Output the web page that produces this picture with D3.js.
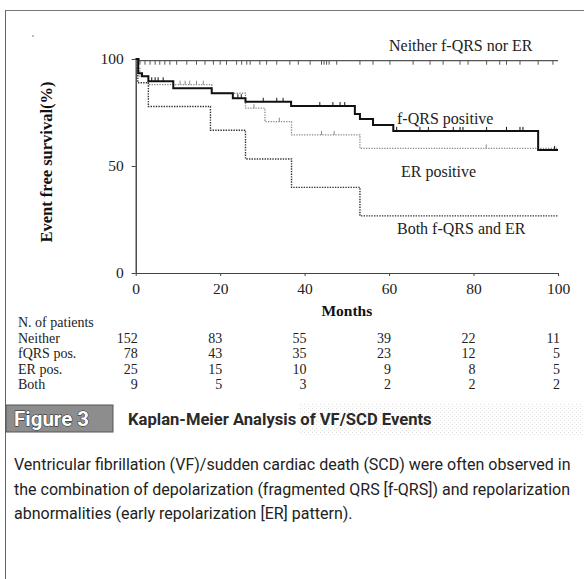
<!DOCTYPE html>
<html>
<head>
<meta charset="utf-8">
<script src="https://cdn.jsdelivr.net/npm/d3@7"></script>
<style>
  body { margin: 0; background: #fff; }
  svg { display: block; }
</style>
</head>
<body>
<div id="chart"></div>
<script>
// Kaplan-Meier steps: event times (months) and survival (%) after each event
let neitherTimes = [0.8];
let neitherSurv = [99.2];
let neitherCensor = [1, 2.2, 3.4, 4.6, 5.7, 6.9, 8.1, 9.7, 12.1, 14.4, 16.4, 18.4, 20, 21.5, 23.9,
  25.1, 26.3, 27.1, 29.4, 31, 33.4, 36.5, 38.5, 41.3, 44, 44.6, 45.2, 45.8, 47.6, 53.1, 56.2,
  60.2, 65.7, 69.7, 72.8, 76.8, 78.7, 83.1, 86.2, 87.8, 91, 95.3, 98.8];

let fqrsTimes = [0.6, 1.5, 3, 8.9, 18, 23, 26, 36.8, 51.9, 53.1, 56.2, 61, 95.3];
let fqrsSurv = [93.3, 91.9, 89.6, 86.3, 84, 81.7, 80, 78, 74.3, 72, 69.2, 66.4, 57.5];
let fqrsCensor = [3.8, 4.6, 5.3, 6.5, 24.2, 25, 30.2, 33.4, 34.9, 43.6, 46.7, 48.4, 49.5,
  61.8, 67.3, 69.3, 75.2, 76.8, 77.5, 83.1, 87.8, 91, 91.7, 99.2];

let erTimes = [0.3, 1, 3, 18, 26, 30.6, 36.9, 53.1];
let erSurv = [96, 92, 88, 84, 77, 70.7, 64.5, 58.2];
let erCensor = [10.5, 11.7, 12.8, 14.4, 16, 28, 34, 44, 47, 83];

let bothTimes = [0.5, 3, 17.7, 26, 36.9, 53.1];
let bothSurv = [88.9, 77.8, 66.7, 53.3, 40, 26.7];
let bothCensor = [];

let endTime = 100;

// numbers at risk
let riskMonths = [0, 20, 40, 60, 80, 100];
let riskGroups = ["Neither", "fQRS pos.", "ER pos.", "Both"];
let riskNeither = [152, 83, 55, 39, 22, 11];
let riskFqrs = [78, 43, 35, 23, 12, 5];
let riskEr = [25, 15, 10, 9, 8, 5];
let riskBoth = [9, 5, 3, 2, 2, 2];

let xTicks = [0, 20, 40, 60, 80, 100];
let yTicks = [0, 50, 100];

let w = 584;
let h = 579;
let serif = "'Liberation Serif', 'Times New Roman', serif";
let sans = "Roboto, 'Liberation Sans', Arial, sans-serif";

let x = d3.scaleLinear().domain([0, 100]).range([135.7, 558]);
let y = d3.scaleLinear().domain([0, 100]).range([273, 59]);

let svg = d3
  .select("#chart")
  .append("svg")
  .attr("width", w)
  .attr("height", h);

// page frame
svg.append("line")
  .attr("x1", 5).attr("x2", w).attr("y1", 10.5).attr("y2", 10.5)
  .attr("stroke", "#777").attr("stroke-width", 1);
svg.append("line")
  .attr("x1", 5.5).attr("x2", 5.5).attr("y1", 10).attr("y2", h)
  .attr("stroke", "#666").attr("stroke-width", 1);
svg.append("circle")
  .attr("cx", 33).attr("cy", 36).attr("r", 0.8).attr("fill", "#666");

// axes
let xAxis = d3.axisBottom(x).tickValues(xTicks).tickSize(3).tickSizeOuter(0).tickPadding(7);
let gx = svg.append("g")
  .attr("transform", `translate(0,${y(0)})`)
  .call(xAxis)
  .attr("font-family", serif).attr("font-size", 15.5);
gx.select(".domain").attr("stroke", "#444");
gx.selectAll(".tick line").attr("stroke", "#444");
gx.selectAll("text").attr("fill", "#222");

let yAxis = d3.axisLeft(y).tickValues(yTicks).tickSize(4).tickSizeOuter(0).tickPadding(8);
let gy = svg.append("g")
  .attr("transform", `translate(${x(0)},0)`)
  .call(yAxis)
  .attr("font-family", serif).attr("font-size", 15.5);
gy.select(".domain").attr("stroke", "#222").attr("stroke-width", 1.2);
gy.selectAll(".tick line").attr("stroke", "#444");
gy.selectAll("text").attr("fill", "#222");

svg.append("text")
  .attr("x", x(50)).attr("y", 316)
  .attr("text-anchor", "middle")
  .attr("font-family", serif).attr("font-weight", "bold").attr("font-size", 15.5)
  .attr("fill", "#111")
  .text("Months");

svg.append("text")
  .attr("transform", `translate(52,${y(50) - 4}) rotate(-90)`)
  .attr("text-anchor", "middle")
  .attr("font-family", serif).attr("font-weight", "bold").attr("font-size", 16.5)
  .attr("fill", "#111")
  .text("Event free survival(%)");

// curves
function steps(times, surv) {
  let pts = [[0, 100]];
  times.forEach(function (t, i) {
    pts.push([t, surv[i]]);
  });
  pts.push([endTime, surv[surv.length - 1]]);
  return pts;
}

function survAt(times, surv, t) {
  let s = 100;
  times.forEach(function (e, i) {
    if (e <= t) s = surv[i];
  });
  return s;
}

let line = d3.line()
  .x(function (d) { return x(d[0]); })
  .y(function (d) { return y(d[1]); })
  .curve(d3.curveStepAfter);

let groups = [
  { times: erTimes, surv: erSurv, censor: erCensor, color: "#8a8a8a", width: 1.3, dash: "1.3,1.3", dir: -1 },
  { times: bothTimes, surv: bothSurv, censor: bothCensor, color: "#333", width: 1.4, dash: "1.4,1.2", dir: -1 },
  { times: neitherTimes, surv: neitherSurv, censor: neitherCensor, color: "#555", width: 1.3, dash: null, dir: 1 },
  { times: fqrsTimes, surv: fqrsSurv, censor: fqrsCensor, color: "#111", width: 2, dash: null, dir: -1 }
];

groups.forEach(function (g) {
  svg.append("path")
    .attr("d", line(steps(g.times, g.surv)))
    .attr("fill", "none")
    .attr("stroke", g.color)
    .attr("stroke-width", g.width)
    .attr("stroke-dasharray", g.dash);

  svg.selectAll(null)
    .data(g.censor)
    .enter()
    .append("line")
    .attr("x1", function (t) { return x(t); })
    .attr("x2", function (t) { return x(t); })
    .attr("y1", function (t) { return y(survAt(g.times, g.surv, t)); })
    .attr("y2", function (t) { return y(survAt(g.times, g.surv, t)) + g.dir * 4; })
    .attr("stroke", g.color)
    .attr("stroke-width", 1);
});

// curve labels
let curveLabels = [
  { text: "Neither f-QRS nor ER", x: 389, y: 51 },
  { text: "f-QRS positive", x: 397, y: 124 },
  { text: "ER positive", x: 401, y: 177 },
  { text: "Both f-QRS and ER", x: 397, y: 234 }
];
svg.selectAll(null)
  .data(curveLabels)
  .enter()
  .append("text")
  .attr("x", function (d) { return d.x; })
  .attr("y", function (d) { return d.y; })
  .attr("font-family", serif).attr("font-size", 16).attr("fill", "#222")
  .text(function (d) { return d.text; });

// numbers at risk table
let rowY = [327, 342.5, 358, 373.5, 389];
svg.append("text")
  .attr("x", 18).attr("y", rowY[0])
  .attr("font-family", serif).attr("font-size", 14).attr("fill", "#222")
  .text("N. of patients");

let riskRows = [riskNeither, riskFqrs, riskEr, riskBoth];
riskRows.forEach(function (row, i) {
  svg.append("text")
    .attr("x", 18).attr("y", rowY[i + 1])
    .attr("font-family", serif).attr("font-size", 14).attr("fill", "#222")
    .text(riskGroups[i]);
  svg.selectAll(null)
    .data(row)
    .enter()
    .append("text")
    .attr("x", function (d, j) { return x(riskMonths[j]) + 2; })
    .attr("y", rowY[i + 1])
    .attr("text-anchor", "end")
    .attr("font-family", serif).attr("font-size", 14).attr("fill", "#222")
    .text(function (d) { return d; });
});

// figure header
let defs = svg.append("defs");
let pat = defs.append("pattern")
  .attr("id", "stipple").attr("width", 4).attr("height", 4)
  .attr("patternUnits", "userSpaceOnUse");
pat.append("rect").attr("x", 0).attr("y", 0).attr("width", 1).attr("height", 1).attr("fill", "#bbb");
pat.append("rect").attr("x", 2).attr("y", 2).attr("width", 1).attr("height", 1).attr("fill", "#ccc");

svg.append("rect")
  .attr("x", 300).attr("y", 403).attr("width", 284).attr("height", 32)
  .attr("fill", "url(#stipple)").attr("opacity", 0.5);

svg.append("rect")
  .attr("x", 6).attr("y", 405).attr("width", 107).attr("height", 27)
  .attr("fill", "#8d8d8d").attr("stroke", "#555").attr("stroke-width", 1);
svg.append("text")
  .attr("x", 14).attr("y", 426)
  .attr("font-family", sans).attr("font-weight", "bold").attr("font-size", 20.5)
  .attr("fill", "#fff").attr("stroke", "#222").attr("stroke-width", 1)
  .attr("paint-order", "stroke")
  .text("Figure 3");

svg.append("text")
  .attr("x", 128).attr("y", 425)
  .attr("font-family", sans).attr("font-weight", "bold").attr("font-size", 16.6)
  .attr("fill", "#2a2a2a")
  .text("Kaplan-Meier Analysis of VF/SCD Events");

let caption = [
  "Ventricular fibrillation (VF)/sudden cardiac death (SCD) were often observed in",
  "the combination of depolarization (fragmented QRS [f-QRS]) and repolarization",
  "abnormalities (early repolarization [ER] pattern)."
];
svg.selectAll(null)
  .data(caption)
  .enter()
  .append("text")
  .attr("x", 14)
  .attr("y", function (d, i) { return 470 + i * 24.5; })
  .attr("font-family", sans).attr("font-size", 16).attr("fill", "#222")
  .text(function (d) { return d; });
</script>
</body>
</html>
